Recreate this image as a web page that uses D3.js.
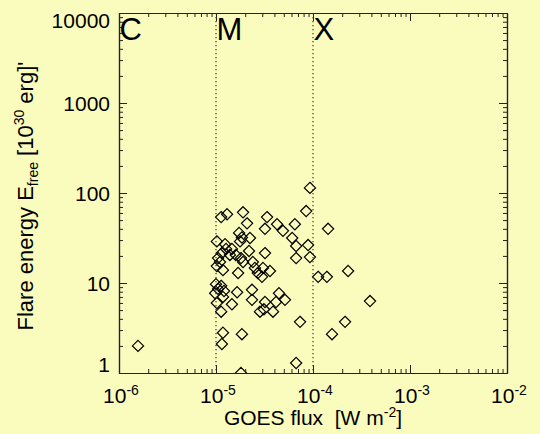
<!DOCTYPE html>
<html><head><meta charset="utf-8">
<script src="https://cdn.jsdelivr.net/npm/d3@7"></script>
<style>
body{margin:0;background:#FAFCBE;}
svg{display:block;font-family:"Liberation Sans",Arial,sans-serif;}
</style>
</head><body>
<svg id="chart" width="540" height="434"></svg>
<script>
// GOES peak flux [W m^-2]
const flux = [
 9.3e-5, 8.5e-5, 1.9e-5, 1.13e-5, 1.3e-5, 3.36e-5, 2.09e-5, 4.26e-5, 6.5e-5, 1.43e-4,
 3.2e-5, 4.9e-5, 1.73e-5, 1.85e-5, 2.24e-5, 1.77e-5, 6.1e-5, 1.02e-5, 1.24e-5, 8.9e-5,
 6.7e-5, 2.19e-5, 3.2e-5, 1.15e-5, 1.39e-5, 1.6e-5, 1.05e-5, 6.7e-5, 9.3e-5, 1.81e-5,
 1.9e-5, 2.4e-5, 1.02e-5, 1.18e-5, 1.69e-5, 2.52e-5, 3.05e-5, 3.6e-5, 2.7e-5, 2.98e-5,
 2.3e-4, 1.13e-4, 1.39e-4, 1.0e-5, 1.13e-5, 1.05e-5, 1.21e-5, 1.65e-5, 2.35e-5, 4.46e-5,
 1.18e-5, 2.35e-5, 5.14e-5, 1.02e-5, 1.46e-5, 4.16e-5, 3.87e-4, 1.13e-5, 2.84e-5, 3.12e-5,
 3.87e-5, 7.35e-5, 2.14e-4, 1.18e-5, 1.85e-5, 1.57e-4, 1.15e-5, 6.7e-5, 1.81e-5, 1.57e-6,
 1.27e-5, 1.46e-5, 1.1e-5, 3.2e-5, 9.8e-6
];
// Free energy [10^30 erg]
const energy = [
 114, 63, 61, 54, 58, 54, 46, 45, 45, 40,
 40, 38, 36, 32, 31.6, 29, 31.6, 29, 27, 26.4,
 25.8, 22.7, 21.5, 21.5, 20.5, 20.5, 18.9, 18.9, 19.4, 18.9,
 17.1, 17.1, 15.4, 13.9, 12.9, 14.7, 14.7, 13.6, 12.9, 11.7,
 13.6, 11.7, 11.7, 9.7, 9.3, 8.6, 8.15, 7.9, 8.4, 7.7,
 7.0, 6.5, 6.5, 6.0, 5.8, 6.15, 6.3, 4.8, 4.8, 5.1,
 4.8, 3.7, 3.7, 2.8, 2.7, 2.7, 2.1, 1.29, 1.0, 2.0,
 23.9, 23.9, 17.1, 6.15, 7.7
];
const xTicks = [1e-6, 1e-5, 1e-4, 1e-3, 1e-2];
const xTickExp = ["-6", "-5", "-4", "-3", "-2"];
const yTicks = [1, 10, 100, 1000, 10000];
const yTickLabels = ["1", "10", "100", "1000", "10000"];
const classNames = ["C", "M", "X"];
const classFlux = [1e-6, 1e-5, 1e-4];
const classLines = [1e-5, 1e-4];

const svg = d3.select("#chart");
const L = 119, R = 507, T = 13, B = 373;
const x = d3.scaleLog().domain([1e-6, 1e-2]).range([L, R]);
const y = d3.scaleLog().domain([1, 1e4]).range([B, T]);

svg.append("defs").append("clipPath").attr("id", "plot")
  .append("rect").attr("x", L).attr("y", T).attr("width", R - L).attr("height", B - T);

const minor = (lo, hi) => {
  const out = [];
  for (let d = lo; d < hi * 0.999; d *= 10) for (let k = 2; k <= 9; k++) out.push(k * d);
  return out;
};
const xMinor = minor(1e-6, 1e-2);
const yMinor = minor(1, 1e4);
const axCol = "#222";

// diamonds (clipped to plot area)
const pts = flux.map((f, i) => ({f, e: energy[i]}));
svg.append("g").attr("clip-path", "url(#plot)")
  .selectAll("path").data(pts).join("path")
  .attr("transform", d => `translate(${x(d.f)},${y(d.e)})`)
  .attr("d", "M0,-5.6L5.6,0L0,5.6L-5.6,0Z")
  .attr("fill", "none").attr("stroke", "#000").attr("stroke-width", 1.2);

function axis(gen, tr, vals, len) {
  const g = svg.append("g").attr("transform", tr)
    .call(gen.tickValues(vals).tickSize(len).tickFormat("").tickSizeOuter(0));
  g.selectAll("line").attr("stroke", axCol).attr("stroke-width", 1);
  g.select(".domain").attr("stroke", axCol).attr("stroke-width", 1.2);
  return g;
}
axis(d3.axisBottom(x), `translate(0,${B})`, xTicks, -8);
axis(d3.axisBottom(x), `translate(0,${B})`, xMinor, -4);
axis(d3.axisTop(x), `translate(0,${T})`, xTicks, -8);
axis(d3.axisTop(x), `translate(0,${T})`, xMinor, -4);
axis(d3.axisLeft(y), `translate(${L},0)`, yTicks, -8);
axis(d3.axisLeft(y), `translate(${L},0)`, yMinor, -4);
axis(d3.axisRight(y), `translate(${R},0)`, yTicks, -8);
axis(d3.axisRight(y), `translate(${R},0)`, yMinor, -4);

// dotted class boundaries
svg.append("g").selectAll("line").data(classLines).join("line")
  .attr("x1", d => x(d)).attr("x2", d => x(d))
  .attr("y1", T).attr("y2", B)
  .attr("stroke", "#333").attr("stroke-width", 1.2)
  .attr("stroke-dasharray", "1.3,2.7");

// class letters
svg.append("g").selectAll("text").data(classNames).join("text")
  .attr("x", (d, i) => x(classFlux[i]) + 0.5).attr("y", 40)
  .attr("font-size", 31).attr("fill", "#000").text(d => d);

// x tick labels 10^n
const xl = svg.append("g").selectAll("text").data(xTicks).join("text")
  .attr("x", d => x(d) + 2).attr("y", 403)
  .attr("text-anchor", "middle").attr("font-size", 21).attr("fill", "#000");
xl.append("tspan").text("10");
xl.append("tspan").attr("dy", -8).attr("font-size", 14).text((d, i) => xTickExp[i]);

// y tick labels
svg.append("g").selectAll("text").data(yTicks).join("text")
  .attr("x", 110)
  .attr("y", (d, i) => y(d) + (i === 0 ? -1 : i === yTicks.length - 1 ? 15 : 8))
  .attr("text-anchor", "end").attr("font-size", 21).attr("fill", "#000")
  .text((d, i) => yTickLabels[i]);

// x title
const xt = svg.append("text").attr("x", 313).attr("y", 425)
  .attr("text-anchor", "middle").attr("font-size", 21).attr("fill", "#000");
xt.append("tspan").text("GOES flux\u00a0\u00a0[W m");
xt.append("tspan").attr("dy", -8).attr("font-size", 14).text("-2");
xt.append("tspan").attr("dy", 8).text("]");

// y title
const yt = svg.append("text").attr("transform", "translate(33,196) rotate(-90)")
  .attr("text-anchor", "middle").attr("font-size", 22).attr("fill", "#000");
yt.append("tspan").text("Flare energy E");
yt.append("tspan").attr("dy", 5).attr("font-size", 14).text("free");
yt.append("tspan").attr("dy", -5).text(" [10");
yt.append("tspan").attr("dy", -9).attr("font-size", 14).text("30");
yt.append("tspan").attr("dy", 9).text(" erg]'");
</script>
</body></html>
